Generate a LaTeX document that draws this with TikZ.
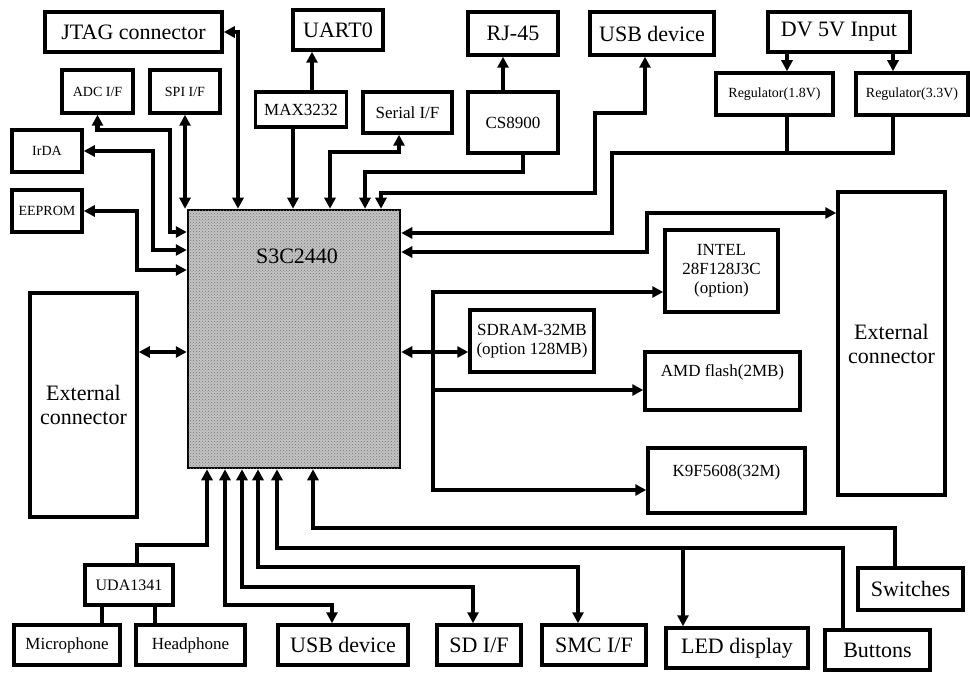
\documentclass[tikz,border=0pt]{standalone}
\usepackage{fontspec}
\setmainfont{Liberation Serif}
\usepackage{tikz}
\usetikzlibrary{arrows.meta,patterns}
\definecolor{ChipGray}{HTML}{C4C4C4}

\begin{document}
\begin{tikzpicture}[
x=1pt,y=-1pt,
box/.style={draw,line width=3.5pt,fill=white,align=center,inner sep=1pt},
big/.style={font=\fontsize{22}{24}\selectfont},
mid/.style={font=\fontsize{17}{19}\selectfont},
sml/.style={font=\fontsize{14}{16}\selectfont},
chip/.style={draw,line width=2.5pt,fill=ChipGray,postaction={pattern=crosshatch dots,pattern color=black!55}},
wire/.style={line width=4.5pt},
arr/.style={wire,-{Triangle[length=11pt,width=11pt]}},
dbl/.style={wire,{Triangle[length=11pt,width=11pt]}-{Triangle[length=11pt,width=11pt]}}
]
\useasboundingbox[fill=white] (0,0) rectangle (970,674);
\node[box,big,minimum width=177,minimum height=40] (jtag) at (133.5,32) {JTAG connector};
\node[box,big,minimum width=90,minimum height=40] (uart) at (338,30) {UART0};
\node[box,big,minimum width=90,minimum height=43] (rj) at (513,33.5) {RJ-45};
\node[box,big,minimum width=124,minimum height=43] (usbt) at (652,33.5) {USB device};
\node[box,big,minimum width=142,minimum height=40] (dv) at (839,32) {DV 5V Input};
\node[box,sml,minimum width=71,minimum height=43] (adc) at (97.5,91.5) {ADC I/F};
\node[box,sml,minimum width=70,minimum height=43] (spi) at (185,91.5) {SPI I/F};
\node[box,mid,minimum width=91,minimum height=35] (max) at (301,109.5) {MAX3232};
\node[box,mid,minimum width=89,minimum height=41] (serial) at (407.5,112.5) {Serial I/F};
\node[box,mid,minimum width=90,minimum height=61] (cs) at (513,122.5) {CS8900};
\node[box,sml,minimum width=117,minimum height=42] (reg18) at (774.5,94) {Regulator(1.8V)};
\node[box,sml,minimum width=112,minimum height=42] (reg33) at (912,94) {Regulator(3.3V)};
\node[box,sml,minimum width=70,minimum height=42] (irda) at (47,151) {IrDA};
\node[box,sml,minimum width=70,minimum height=42] (eeprom) at (47,211) {EEPROM};
\node[chip,minimum width=212,minimum height=258] (soc) at (294,339) {};
\node[big] (soctxt) at (297,256) {S3C2440};
\node[box,big,minimum width=107,minimum height=224] (extl) at (83.5,405) {External\\connector};
\node[box,big,minimum width=107,minimum height=303] (extr) at (891.5,343.5) {External\\connector};
\node[box,mid,minimum width=113,minimum height=82] (intel) at (721.5,271) {INTEL\\28F128J3C\\(option)};
\node[box,mid,minimum width=124,minimum height=62] (sdram) at (532,341) {SDRAM-32MB\\(option 128MB)};
\node[box,mid,minimum width=155,minimum height=58] (amd) at (722.5,381) {\raisebox{20pt}{AMD flash(2MB)}};
\node[box,mid,minimum width=157,minimum height=65] (k9f) at (726.5,480.5) {\raisebox{20pt}{K9F5608(32M)}};
\node[box,font=\fontsize{16}{18}\selectfont,minimum width=88,minimum height=40] (uda) at (129,585) {UDA1341};
\node[box,mid,minimum width=106,minimum height=40] (mic) at (67,645) {Microphone};
\node[box,mid,minimum width=109,minimum height=40] (head) at (190.5,645) {Headphone};
\node[box,big,minimum width=130,minimum height=40] (usbb) at (343,645) {USB device};
\node[box,big,minimum width=84,minimum height=40] (sd) at (479,645) {SD I/F};
\node[box,big,minimum width=104,minimum height=40] (smc) at (594,645) {SMC I/F};
\node[box,big,minimum width=142,minimum height=40] (led) at (737,648) {LED display};
\node[box,big,minimum width=105,minimum height=40] (btn) at (877.5,650) {Buttons};
\node[box,big,minimum width=105,minimum height=42] (sw) at (910.5,589) {Switches};
\coordinate (pwr) at (787,153);
\coordinate (bus) at (433,352);
\coordinate (ledj) at (683,548);
\draw[dbl] (jtag.east) -| (soc.north -| 238,0);
\draw[dbl] (spi.south) -- (soc.north -| spi.south);
\draw[dbl] (adc.south) |- (170,130) |- (soc.west |- 0,232);
\draw[dbl] (irda.east) -| (153,250) -- (soc.west |- 0,250);
\draw[dbl] (eeprom.east) -| (137,270) -- (soc.west |- 0,270);
\draw[arr] (max.north -| 312,0) -- (uart.south -| 312,0);
\draw[arr] (max.south -| 293,0) -- (soc.north -| 293,0);
\draw[dbl] (serial.south -| 399,0) |- (330,152) -- (soc.north -| 330,0);
\draw[arr] (cs.north -| 503,0) -- (rj.south -| 503,0);
\draw[arr] (cs.south -| 523,0) |- (365,172) -- (soc.north -| 365,0);
\draw[dbl] (usbt.south -| 645,0) |- (595,113) |- (381,193) -- (soc.north -| 381,0);
\draw[arr] (dv.south -| 787,0) -- (reg18.north -| 787,0);
\draw[arr] (dv.south -| 893,0) -- (reg33.north -| 893,0);
\draw[wire] (reg18.south -| 787,0) -- (pwr);
\draw[arr] (reg33.south -| 893,0) |- (612,153) |- (soc.east |- 0,233);
\draw[dbl] (soc.east |- 0,252) -| (647,213) -- (extr.west |- 0,213);
\draw[dbl] (soc.east |- 0,352) -- (sdram.west |- 0,352);
\draw[arr] (bus) |- (intel.west |- 0,292);
\draw[arr] (bus) |- (amd.west |- 0,390);
\draw[arr] (bus) |- (k9f.west |- 0,490);
\draw[dbl] (extl.east |- 0,352) -- (soc.west |- 0,352);
\draw[arr] (uda.north -| 137,0) |- (207,545) -- (soc.south -| 207,0);
\draw[dbl] (soc.south -| 225,0) |- (332,605) -- (usbb.north -| 332,0);
\draw[dbl] (soc.south -| 242,0) |- (473,587) -- (sd.north -| 473,0);
\draw[dbl] (soc.south -| 258,0) |- (578,567) -- (smc.north -| 578,0);
\draw[arr] (btn.north -| 843,0) |- (277,548) -- (soc.south -| 277,0);
\draw[arr] (ledj) -- (led.north -| 683,0);
\draw[arr] (sw.north -| 895,0) |- (313,528) -- (soc.south -| 313,0);
\draw[wire] (uda.south -| 102,0) -- (mic.north -| 102,0);
\draw[wire] (uda.south -| 155,0) -- (head.north -| 155,0);
\end{tikzpicture}
\end{document}
